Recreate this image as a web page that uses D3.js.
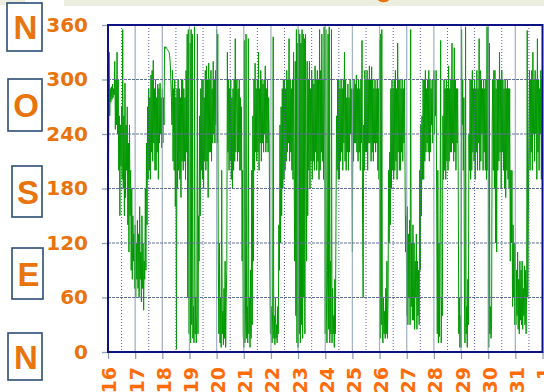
<!DOCTYPE html>
<html>
<head>
<meta charset="utf-8">
<script src="https://cdn.jsdelivr.net/npm/d3@7"></script>
<style>
  body { margin: 0; background: #ffffff; }
  svg { display: block; }
</style>
</head>
<body>
<script>
// Day labels along the time axis (16th of the month through the 1st of the next)
const dayLabels = ["16","17","18","19","20","21","22","23","24","25","26","27","28","29","30","31","1"];
// Direction ticks in degrees
const yTicks = [0, 60, 120, 180, 240, 300, 360];
// Compass points beside the degree scale, from 360 down to 0
const compassLetters = ["N", "O", "S", "E", "N"];

// Half-hourly wind direction (degrees), one array of 48 readings per day
const day16 = [300,200,330,260,290,275, 292,278,295,280,290,283, 320,245,300,250,330,240, 300,200,260,150,250,205,
               270,190,355,180,260,150, 296,170,250,200,270,140, 230,110,250,150,200,90, 180,80,150,100,130,70];
const day17 = [140,60,120,80,145,70, 130,60,160,80,110,55, 150,70,120,46,100,80, 180,90,230,140,270,190,
               290,200,280,190,305,220, 310,210,321,230,290,200, 300,200,280,220,295,190, 290,230,296,240,280,225];
const day18 = [290,230,280,250,336,334, 336,335,334,333,332,331, 330,326,318,300,280,250, 310,210,290,200,300,160,
               280,3,290,180,300,200, 290,190,280,170,300,210, 300,200,290,210,280,190, 310,220,350,60,355,20];
const day19 = [20,340,10,355,30,350, 15,50,10,358,20,60, 10,40,350,20,150,100, 260,150,290,200,300,190,
               300,180,280,210,310,200, 315,210,300,170,318,220, 300,220,310,210,290,230, 320,240,300,230,310,250];
const day20 = [355,230,350,100,20,120, 10,60,5,200,20,45, 8,70,15,100,5,60, 90,330,220,300,200,290,
               210,300,190,280,180,290, 200,300,210,345,220,290, 300,210,290,220,300,200, 280,200,270,100,200,20];
const day21 = [5,343,10,40,350,15, 50,10,345,20,60,5, 90,15,200,30,260,100, 300,200,318,220,290,210,
               300,220,330,200,290,230, 310,210,300,230,295,220, 300,240,315,220,290,230, 300,220,280,230,100,20];
const day22 = [20,50,10,45,347,15, 40,8,60,15,30,10, 50,20,140,90,250,120, 270,150,290,180,300,190,
               300,200,290,210,310,220, 300,230,345,210,300,220, 290,200,300,190,330,200, 100,320,40,355,10,340];
const day23 = [5,355,20,350,10,340, 30,355,15,350,60,345, 20,350,200,100,320,150, 300,200,320,180,290,210,
               310,190,300,210,295,200, 315,220,300,200,310,210, 300,190,355,200,310,220, 350,210,300,190,358,250];
const day24 = [20,355,60,10,90,350, 25,358,10,100,20,355, 10,70,20,40,5,80, 20,150,260,200,300,190,
               300,190,290,210,300,220, 290,200,300,230,330,210, 300,200,280,220,295,200, 280,220,300,240,290,230];
const day25 = [110,290,210,300,230,295, 230,305,220,290,210,300, 220,290,200,300,230,343, 140,60,250,200,310,220,
               300,220,310,200,300,230, 315,230,300,210,314,220, 300,210,290,230,300,220, 290,230,300,200,290,190];
const day26 = [343,15,350,30,355,20, 10,60,20,45,15,70, 20,100,15,60,200,120, 220,140,290,180,300,200,
               290,190,300,200,310,210, 290,190,340,220,300,200, 300,200,290,220,300,210, 290,230,300,200,110,150];
const day27 = [40,160,30,130,60,145, 30,355,50,120,35,140, 35,120,25,100,60,130, 25,100,40,90,30,200,
               90,250,150,260,190,300, 190,300,210,310,220,290, 230,300,220,310,210,300, 220,290,250,300,230,290];
const day28 = [310,240,300,260,310,150, 20,200,10,120,17,150, 343,10,60,40,260,190, 300,200,290,190,300,210,
               290,200,315,210,290,220, 300,220,340,230,300,210, 335,220,300,200,290,230, 290,200,20,60,5,40];
const day29 = [5,355,250,300,200,280, 60,10,358,20,50,5, 80,30,240,200,300,190, 300,200,310,220,290,210,
               300,190,290,220,310,200, 290,230,345,200,310,210, 300,240,290,200,300,220, 290,200,300,190,358,200];
const day30 = [358,5,340,20,50,15, 30,250,300,200,310,180, 310,120,290,110,300,200, 300,210,330,220,300,180,
               310,220,300,200,290,180, 300,170,290,200,300,190, 290,180,290,100,200,120, 200,50,140,60,120,30];
const day31 = [120,30,90,40,110,25, 80,20,100,35,90,30, 100,25,70,40,95,30, 90,20,80,354,60,150,
               250,310,200,300,220,310, 200,330,240,300,210,310, 240,300,190,345,220,300, 200,290,240,310,190,300];

const dailySeries = [day16, day17, day18, day19, day20, day21, day22, day23,
                     day24, day25, day26, day27, day28, day29, day30, day31];
const firstDay = 16;

// Flatten into (time in days, direction) points
const points = [];
dailySeries.forEach((readings, d) => {
  readings.forEach((v, k) => points.push({ t: firstDay + d + k / readings.length, v }));
});

const W = 544, H = 392;
const plot = { left: 108, right: 542.5, top: 25, bottom: 352 };

const svg = d3.select("body").append("svg")
  .attr("width", W).attr("height", H);

// Header band
svg.append("rect").attr("x", 0).attr("y", 0).attr("width", 25).attr("height", 5).attr("fill", "#eceee0");
svg.append("rect").attr("x", 64).attr("y", 0).attr("width", W - 64).attr("height", 6).attr("fill", "#eceee0");
svg.append("ellipse").attr("cx", 383.5).attr("cy", -0.5).attr("rx", 5.5).attr("ry", 2.8).attr("fill", "#e8740e");

const x = d3.scaleLinear().domain([firstDay, firstDay + dayLabels.length - 1]).range([plot.left, plot.right]);
const y = d3.scaleLinear().domain([0, 360]).range([plot.bottom, plot.top]);

// Data line
const line = d3.line().x(d => x(d.t)).y(d => y(d.v));
svg.append("path")
  .datum(points)
  .attr("d", line)
  .attr("fill", "none")
  .attr("stroke", "#009900")
  .attr("stroke-width", 1)
  .attr("stroke-linejoin", "bevel");

// Grid drawn over the trace
const grid = svg.append("g");
const dayTicks = d3.range(firstDay, firstDay + dayLabels.length);
grid.selectAll("line.day")
  .data(dayTicks.slice(1, -1))
  .join("line")
  .attr("x1", d => x(d)).attr("x2", d => x(d))
  .attr("y1", plot.top).attr("y2", plot.bottom)
  .attr("stroke", "#8fa1b8").attr("stroke-width", 1.3).attr("stroke-opacity", 0.8);
grid.selectAll("line.half")
  .data(dayTicks.slice(0, -1).map(d => d + 0.5))
  .join("line")
  .attr("x1", d => x(d)).attr("x2", d => x(d))
  .attr("y1", plot.top).attr("y2", plot.bottom)
  .attr("stroke", "#5c5cb4").attr("stroke-width", 1).attr("stroke-dasharray", "1,2");
grid.selectAll("line.h")
  .data(yTicks.slice(1, -1))
  .join("line")
  .attr("x1", plot.left).attr("x2", plot.right)
  .attr("y1", d => y(d)).attr("y2", d => y(d))
  .attr("stroke", "#5f7391").attr("stroke-width", 1).attr("stroke-dasharray", "3,1");

// Degree axis
const yAxis = svg.append("g")
  .attr("transform", `translate(${plot.left},0)`)
  .call(d3.axisLeft(y).tickValues(yTicks).tickSize(6).tickPadding(14));
yAxis.select(".domain").remove();
yAxis.selectAll(".tick line").attr("stroke", "#8fa1b8").attr("stroke-width", 1.3);
yAxis.selectAll(".tick text")
  .attr("fill", "#e8740e")
  .style("font-family", "'DejaVu Sans', Verdana, sans-serif")
  .style("font-weight", "bold")
  .style("font-size", "20px");

// Day axis
const xAxis = svg.append("g")
  .attr("transform", `translate(0,${plot.bottom})`)
  .call(d3.axisBottom(x).tickValues(dayTicks).tickSize(7)
    .tickFormat((d, i) => dayLabels[i]));
xAxis.select(".domain").remove();
xAxis.selectAll(".tick line").attr("stroke", "#8fa1b8").attr("stroke-width", 1.3);
xAxis.selectAll(".tick text")
  .attr("transform", "rotate(-90)")
  .attr("x", -15).attr("y", 0).attr("dy", "0.42em")
  .style("text-anchor", "end")
  .attr("fill", "#ff6d0a")
  .style("font-family", "'DejaVu Sans', Verdana, sans-serif")
  .style("font-weight", "bold")
  .style("font-size", "19px");

// Plot frame
svg.append("rect")
  .attr("x", plot.left).attr("y", plot.top)
  .attr("width", plot.right - plot.left).attr("height", plot.bottom - plot.top)
  .attr("fill", "none").attr("stroke", "#0d1282").attr("stroke-width", 2);

// Compass letter boxes
const boxes = [
  { x: 7,  y: 3,   w: 35, h: 48 },
  { x: 8,  y: 79,  w: 34, h: 52 },
  { x: 12, y: 166, w: 30, h: 51 },
  { x: 12, y: 248, w: 31, h: 51 },
  { x: 8,  y: 333, w: 34, h: 47 }
];
const letterGroups = svg.selectAll("g.compass")
  .data(compassLetters.map((c, i) => ({ c, ...boxes[i] })))
  .join("g");
letterGroups.append("rect")
  .attr("x", d => d.x).attr("y", d => d.y)
  .attr("width", d => d.w).attr("height", d => d.h)
  .attr("fill", "#ffffff").attr("stroke", "#2b4d74").attr("stroke-width", 1.6);
letterGroups.append("text")
  .attr("x", d => d.x + d.w / 2 + 1)
  .attr("y", d => d.y + d.h / 2 + 12)
  .attr("text-anchor", "middle")
  .attr("fill", "#e8740e")
  .style("font-family", "'Liberation Sans', Arial, sans-serif")
  .style("font-weight", "bold")
  .style("font-size", "33px")
  .text(d => d.c);
</script>
</body>
</html>
